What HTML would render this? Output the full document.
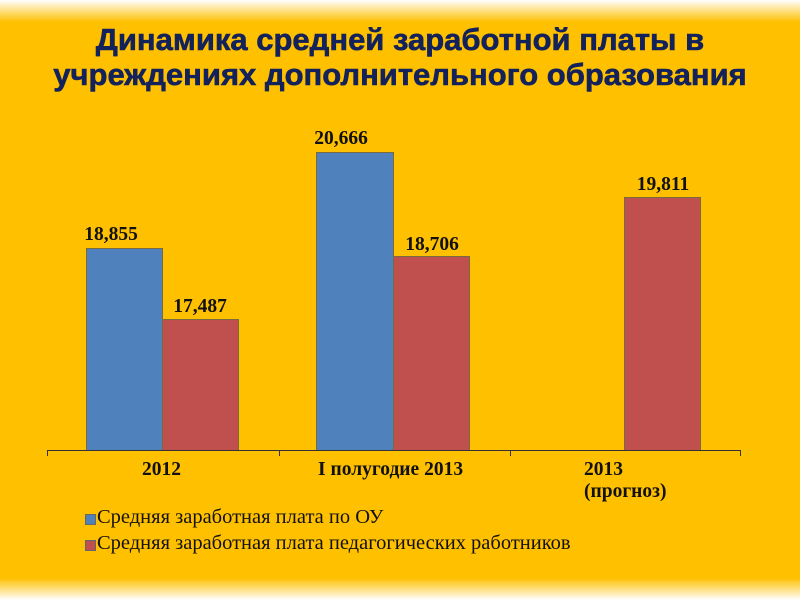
<!DOCTYPE html>
<html><head><meta charset="utf-8"><style>
body{margin:0;width:800px;height:600px;overflow:hidden;background:#FFC000;position:relative;font-family:"Liberation Serif",serif}
.fade{position:absolute;left:0;width:800px}
.t{position:absolute;left:0;width:800px;text-align:center;font-family:"Liberation Sans",sans-serif;font-weight:bold;font-size:31px;color:#13225A;-webkit-text-stroke:0.6px #13225A}
.bar{position:absolute;border:1px solid #7a6a40;box-sizing:border-box}
.b{background:#4F81BD}.r{background:#C0504D}
.lbl{position:absolute;font-weight:bold;font-size:19.5px;color:#111;width:100px;text-align:center}
.cat{position:absolute;font-weight:bold;font-size:19.5px;color:#111;line-height:22px}
.leg{position:absolute;left:97px;font-family:"Liberation Serif",serif;font-size:20.5px;color:#111}
.sq{position:absolute;left:85px;width:9px;height:9px;border:1px solid #666}
</style></head><body>
<div class="fade" style="top:0;height:22px;background:linear-gradient(#fff,rgba(255,255,255,0))"></div>
<div class="fade" style="top:578px;height:22px;background:linear-gradient(rgba(255,255,255,0),#fff)"></div>
<div class="t" style="top:22px">Динамика средней заработной платы в</div>
<div class="t" style="top:57px">учреждениях дополнительного образования</div>

<div class="bar b" style="left:86px;top:248px;width:77px;height:203px"></div>
<div class="bar r" style="left:162px;top:319px;width:77px;height:132px"></div>
<div class="bar b" style="left:316px;top:152px;width:78px;height:299px"></div>
<div class="bar r" style="left:393px;top:256px;width:77px;height:195px"></div>
<div class="bar r" style="left:624px;top:197px;width:77px;height:254px"></div>

<div class="lbl" style="left:61px;top:224px">18,855</div>
<div class="lbl" style="left:150px;top:296px">17,487</div>
<div class="lbl" style="left:291px;top:128px">20,666</div>
<div class="lbl" style="left:382px;top:234px">18,706</div>
<div class="lbl" style="left:613px;top:174px">19,811</div>

<div style="position:absolute;left:47px;top:450px;width:694px;height:1px;background:#333"></div>
<div style="position:absolute;left:47px;top:450px;width:1px;height:6px;background:#333"></div>
<div style="position:absolute;left:279px;top:450px;width:1px;height:6px;background:#333"></div>
<div style="position:absolute;left:510px;top:450px;width:1px;height:6px;background:#333"></div>
<div style="position:absolute;left:740px;top:450px;width:1px;height:6px;background:#333"></div>

<div class="cat" style="left:142px;top:459px">2012</div>
<div class="cat" style="left:318px;top:459px">I полугодие 2013</div>
<div class="cat" style="left:584px;top:459px">2013<br>(прогноз)</div>

<div class="sq" style="top:514px;background:#4F81BD"></div>
<div class="leg" style="top:506px">Средняя заработная плата по ОУ</div>
<div class="sq" style="top:540px;background:#C0504D"></div>
<div class="leg" style="top:532px">Средняя заработная плата педагогических работников</div>
</body></html>
